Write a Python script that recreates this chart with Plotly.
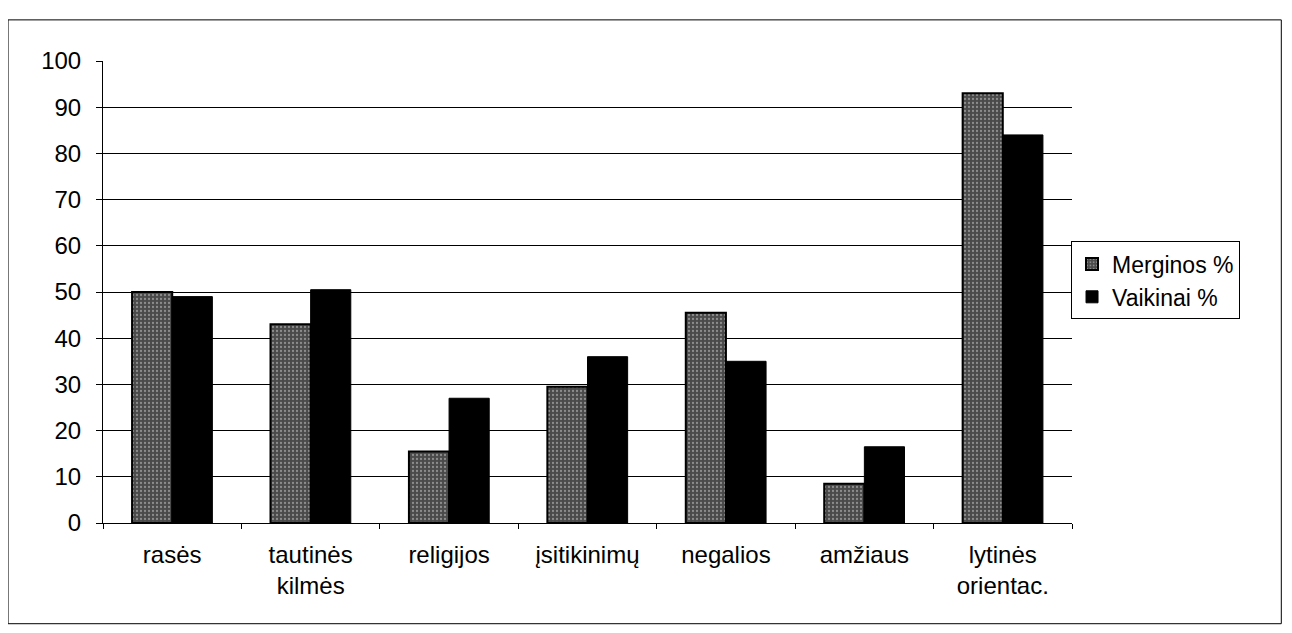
import plotly.graph_objects as go

categories = ["rasės", "tautinės<br>kilmės", "religijos", "įsitikinimų", "negalios", "amžiaus", "lytinės<br>orientac."]
merginos = [50, 43, 15.5, 29.5, 45.5, 8.5, 93]
vaikinai = [49, 50.5, 27, 36, 35, 16.5, 84]
y_ticks = [0, 10, 20, 30, 40, 50, 60, 70, 80, 90, 100]

FONT = "Liberation Sans, Arial, sans-serif"

fig = go.Figure()
fig.add_trace(go.Bar(
    x=categories, y=merginos, name="Merginos %",
    marker=dict(color="#5a5a5a", line=dict(color="black", width=2),
                pattern=dict(shape=".", fgcolor="#cfcfcf", bgcolor="#4a4a4a", size=4, solidity=0.25)),
))
fig.add_trace(go.Bar(
    x=categories, y=vaikinai, name="Vaikinai %",
    marker=dict(color="black", line=dict(color="black", width=1)),
))

fig.update_layout(
    width=1292, height=633,
    paper_bgcolor="white", plot_bgcolor="white",
    margin=dict(l=95, r=228, t=53, b=118),
    barmode="group", bargap=0.42, bargroupgap=0,
    font=dict(family=FONT, size=24, color="black"),
    showlegend=True,
    legend=dict(x=0.999, y=0.525, xanchor="left", yanchor="middle",
                bordercolor="black", borderwidth=1, bgcolor="white",
                font=dict(size=23, family=FONT),
                itemwidth=30),
    xaxis=dict(showline=True, linecolor="black", linewidth=1,
               ticks="outside", tickson="boundaries", ticklen=5, tickcolor="black",
               showgrid=False, tickfont=dict(size=24), ticklabelstandoff=10),
    yaxis=dict(range=[0, 100], tickvals=y_ticks, showline=True, linecolor="black", linewidth=1,
               ticks="outside", ticklen=6, tickcolor="black",
               showgrid=True, gridcolor="black", gridwidth=1,
               zeroline=False, tickfont=dict(size=24), ticklabelstandoff=10),
    shapes=[dict(type="rect", xref="paper", yref="paper",
                 x0=-0.098, x1=1.216, y0=-0.218, y1=1.089,
                 line=dict(color="black", width=1))],
)

fig.write_html("out.html")
